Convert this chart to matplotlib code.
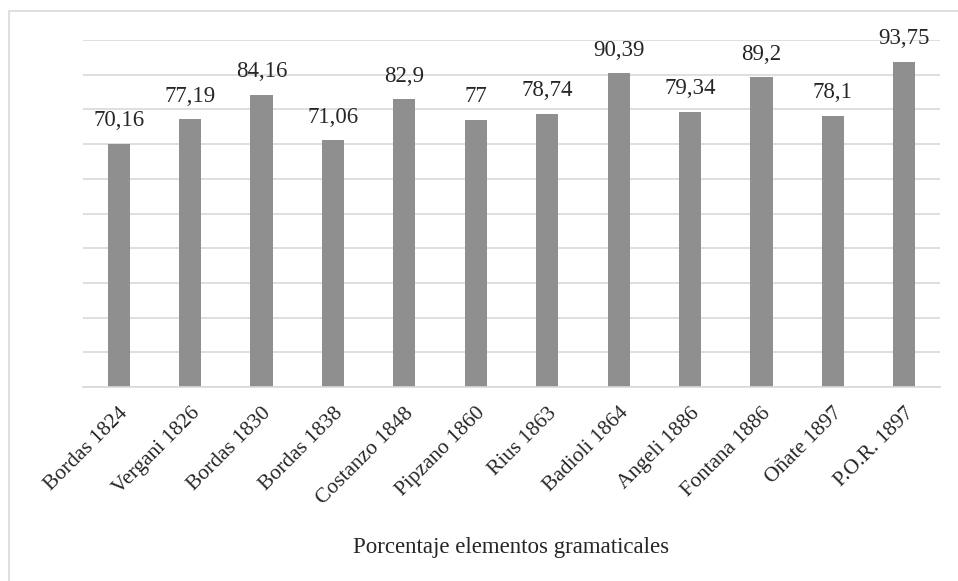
import matplotlib.pyplot as plt
from matplotlib.patches import Rectangle

# Gramáticas y porcentaje de elementos gramaticales
gramaticas = ['Bordas 1824', 'Vergani 1826', 'Bordas 1830', 'Bordas 1838',
              'Costanzo 1848', 'Pipzano 1860', 'Rius 1863', 'Badioli 1864',
              'Angeli 1886', 'Fontana 1886', 'Oñate 1897', 'P.O.R. 1897']
porcentajes = [70.16, 77.19, 84.16, 71.06, 82.9, 77, 78.74, 90.39,
               79.34, 89.2, 78.1, 93.75]

plt.rcParams['font.family'] = ['Liberation Serif', 'DejaVu Serif']

W, H = 958, 581
fig = plt.figure(figsize=(W / 100, H / 100), dpi=100)
ax = fig.add_axes([83 / W, 1 - 387 / H, (940 - 83) / W, (387 - 40) / H])

x = range(len(gramaticas))
barras = ax.bar(x, porcentajes, width=0.31, color='#8f8f8f', zorder=2)

# etiquetas con el valor (coma decimal)
for b, v in zip(barras, porcentajes):
    txt = ('%g' % v).replace('.', ',')
    ax.annotate(txt, (b.get_x() + b.get_width() / 2, v),
                xytext=(0, 9), textcoords='offset points',
                ha='center', va='bottom', fontsize=16.5, color='#262626')

ax.set_xlim(-0.5, len(gramaticas) - 0.5)
ax.set_ylim(0, 100)
ax.set_yticks(range(0, 101, 10))
ax.set_yticklabels([])
ax.tick_params(axis='y', length=0)
ax.tick_params(axis='x', length=0, pad=12)
ax.grid(axis='y', color='#d9d9d9', linewidth=1.2, zorder=0)
for s in ['top', 'right', 'left']:
    ax.spines[s].set_visible(False)
ax.spines['bottom'].set_color('#d9d9d9')
ax.spines['bottom'].set_linewidth(1.2)

ax.set_xticks(list(x))
ax.set_xticklabels(gramaticas, rotation=45, ha='right', rotation_mode='anchor',
                   fontsize=15.5, color='#262626')
ax.set_xlabel('Porcentaje elementos gramaticales', fontsize=16.5,
              color='#262626', labelpad=21)

# marco del gráfico
fig.patches.append(Rectangle((9 / W, -0.1), 1.2, 1 - 11 / H + 0.1,
                             transform=fig.transFigure, fill=False,
                             edgecolor='#d9d9d9', linewidth=1.2))

fig.savefig('out.png', dpi=100)
